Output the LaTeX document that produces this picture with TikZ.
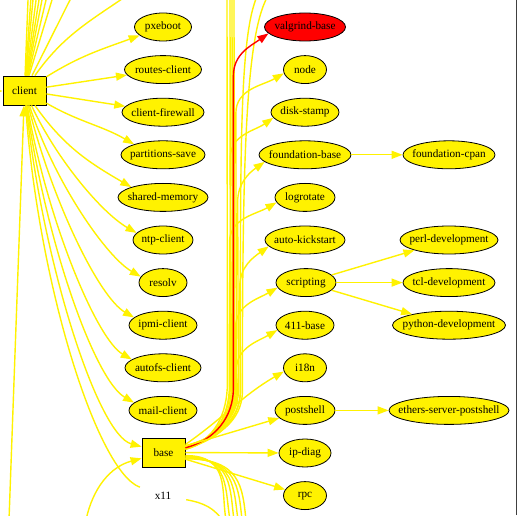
\documentclass[tikz,border=0pt]{standalone}
\usepackage{fontspec}
\setmainfont{Liberation Serif}
\usetikzlibrary{arrows.meta,shapes.geometric,calc}

\tikzset{
  pkg/.style={ellipse, draw=black, fill=yellow, line width=0.8pt,
    inner xsep=-12pt, inner ysep=0pt, minimum height=28pt,
    font=\fontsize{11.2}{13}\selectfont},
  pkgred/.style={pkg, fill=red},
  grp/.style={rectangle, draw=black, fill=yellow, line width=0.8pt, inner sep=0pt,
    minimum width=43pt, minimum height=29pt, font=\fontsize{11.2}{13}\selectfont},
  lbl/.style={inner sep=0pt, minimum width=46pt, minimum height=28pt,
    font=\fontsize{11.2}{13}\selectfont},
  dep/.style={draw=yellow, line width=1.4pt, -{Triangle[length=11pt,width=8pt]}},
  depred/.style={dep, draw=red},
  depline/.style={draw=yellow, line width=1.4pt},
}

\begin{document}
\begin{tikzpicture}[x=1pt, y=1pt]
    \useasboundingbox (0,0) rectangle (517,515);
    \clip (0,0) rectangle (517,515);
    \fill[white] (0,0) rectangle (517,515);

    % 分组方框
    \node[grp] (client) at (24.5,424.5) {client};
    \node[grp] (base) at (163.5,62.5) {base};
    \node[lbl] (xeleven) at (163,19.4) {x11};

    % client 的包
    \node[pkg, minimum width=57pt] (pxeboot)      at (163,488)   {pxeboot};
    \node[pkg, minimum width=77pt] (routesclient) at (163,445.4) {routes-client};
    \node[pkg, minimum width=82pt] (clientfw)     at (163,402.8) {client-firewall};
    \node[pkg, minimum width=84pt] (partsave)     at (163,360.2) {partitions-save};
    \node[pkg, minimum width=90pt] (sharedmem)    at (163,317.6) {shared-memory};
    \node[pkg, minimum width=60pt] (ntpclient)    at (163,275)   {ntp-client};
    \node[pkg, minimum width=48pt] (resolv)       at (163,232.4) {resolv};
    \node[pkg, minimum width=68pt] (ipmiclient)   at (163,189.8) {ipmi-client};
    \node[pkg, minimum width=76pt] (autofsclient) at (163,147.2) {autofs-client};
    \node[pkg, minimum width=68pt] (mailclient)   at (163,104.6) {mail-client};

    % base 的包
    \node[pkgred, minimum width=81pt] (valgrind) at (305,488)   {valgrind-base};
    \node[pkg, minimum width=43pt] (nodepkg)     at (305,445.4) {node};
    \node[pkg, minimum width=68pt] (diskstamp)   at (305,402.8) {disk-stamp};
    \node[pkg, minimum width=92pt] (fbase)       at (305,360.2) {foundation-base};
    \node[pkg, minimum width=60pt] (logrotate)   at (305,317.6) {logrotate};
    \node[pkg, minimum width=80pt] (autoks)      at (305,275)   {auto-kickstart};
    \node[pkg, minimum width=60pt] (scripting)   at (306,232.4) {scripting};
    \node[pkg, minimum width=58pt] (base411)     at (305,189.8) {411-base};
    \node[pkg, minimum width=43pt] (ieighteen)   at (305,147.2) {i18n};
    \node[pkg, minimum width=60pt] (postshell)   at (305,104.6) {postshell};
    \node[pkg, minimum width=52pt] (ipdiag)      at (305,62)    {ip-diag};
    \node[pkg, minimum width=43pt] (rpc)         at (305,19.4)  {rpc};

    % 第三列
    \node[pkg, minimum width=92pt]  (fcpan)      at (449,360.2) {foundation-cpan};
    \node[pkg, minimum width=98pt]  (perldev)    at (449,275)   {perl-development};
    \node[pkg, minimum width=92pt]  (tcldev)     at (449,232.4) {tcl-development};
    \node[pkg, minimum width=113pt] (pydev)      at (449,189.8) {python-development};
    \node[pkg, minimum width=120pt] (etherspost) at (449,104.6) {ethers-server-postshell};

    % 画面外的端点
    \coordinate (upa) at (28.4,525);
    \coordinate (upb) at (31.5,525);
    \coordinate (upc) at (33.9,525);
    \coordinate (upd) at (37.3,525);
    \coordinate (upe) at (40.6,525);
    \coordinate (upf) at (43.9,525);
    \coordinate (upg) at (48.4,525);
    \coordinate (uph) at (55,525);
    \coordinate (upi) at (75,525);
    \coordinate (upk) at (135,525);
    \coordinate (lfc) at (-40,423);
    \coordinate (dnc) at (9,-5);
    \coordinate (dnl) at (86,-5);
    \coordinate (dnx) at (224,-8);

    % client 的连线
    \draw[depline] (client) -- (upa);
    \draw[depline] (client) -- (upb);
    \draw[depline] (client) -- (upc);
    \draw[depline] (client) -- (upd);
    \draw[depline] (client) -- (upe);
    \draw[depline] (client) -- (upf);
    \draw[depline] (client) -- (upg);
    \draw[depline] (client) -- (uph);
    \draw[depline] (client) -- (upi);
    \draw[depline] (client) to[out=55,in=215] (upk);
    \draw[dep] (lfc) -- (client);
    \draw[dep] (dnc) -- (client);
    \draw[dep] (client) to[out=32,in=200] (pxeboot);
    \draw[dep] (client) -- (routesclient);
    \draw[dep] (client) -- (clientfw);
    \draw[dep] (client) to[out=-30,in=150] (partsave.160);
    \draw[dep] (client) to[out=-55,in=150] (sharedmem.162);
    \draw[dep] (client) to[out=-65,in=150,out distance=60pt,in distance=40pt] (ntpclient.165);
    \draw[dep] (client) to[out=-72,in=150,out distance=80pt,in distance=40pt] (resolv.165);
    \draw[dep] (client) to[out=-76,in=150,out distance=100pt,in distance=40pt] (ipmiclient.165);
    \draw[dep] (client) to[out=-80,in=150,out distance=120pt,in distance=40pt] (autofsclient.165);
    \draw[dep] (client) to[out=-82,in=150,out distance=140pt,in distance=45pt] (mailclient.165);
    \draw[dep] (client) to[out=-84,in=165,out distance=160pt,in distance=45pt] (base);
    \draw[depline] (client) to[out=-86,in=160,out distance=180pt,in distance=45pt] (xeleven);

    % base 向上的一束
    \draw[depline] (base.10) to[out=15,in=-90] ++(42,66) -- (227,525);
    \draw[depline] (base.11) to[out=15,in=-90] ++(45,64) -- (230,525);
    \draw[depline] (base.9) to[out=15,in=-90] ++(47,62) -- (232,525);
    \draw[depline] (base.13) to[out=15,in=-90] ++(49,60) -- (234,525);
    \draw[depline] (base.10) to[out=15,in=-90] ++(55,58)
        to[out=90,in=-125,out distance=260pt,in distance=40pt] (262,528);
    \draw[depline] (base.14) to[out=15,in=-90] ++(57,56)
        to[out=90,in=-130,out distance=250pt,in distance=40pt] (272,525);
    \draw[dep] (base.14) to[out=15,in=-90] ++(51,58)
        -- ($(nodepkg.190)+(-48,-40)$) to[out=90,in=210] (nodepkg.190);
    \draw[dep] (base.9) to[out=15,in=-90] ++(46,62)
        -- ($(diskstamp.190)+(-43,-40)$) to[out=90,in=215] (diskstamp.190);
    \draw[dep] (base.16) to[out=15,in=-90] ++(53,56)
        -- ($(fbase.190)+(-27,-40)$) to[out=90,in=215] (fbase.190);
    \draw[dep] (base.8) to[out=15,in=-90] ++(44,64)
        -- ($(logrotate.190)+(-47,-40)$) to[out=90,in=210] (logrotate.190);
    \draw[dep] (base.17) to[out=15,in=-90] ++(55,55)
        -- ($(autoks.190)+(-29,-40)$) to[out=90,in=215] (autoks.190);
    \draw[dep] (base.12) to[out=15,in=-90] ++(50,60)
        -- ($(scripting.190)+(-42,-40)$) to[out=90,in=210] (scripting.190);
    \draw[dep] (base.15) to[out=15,in=-90] ++(52,57)
        -- ($(base411.190)+(-41,-40)$) to[out=90,in=210] (base411.190);
    \draw[dep] (base.20) to[out=35,in=210] (ieighteen.190);
    \draw[depred] (base.12) to[out=15,in=-90] ++(48,60)
        -- ($(valgrind.190)+(-35,-42)$) to[out=90,in=215] (valgrind.190);

    % base 直连
    \draw[dep] (base) -- (postshell);
    \draw[dep] (base) -- (ipdiag);
    \draw[dep] (base) -- (rpc);

    % base 向下的一束
    \draw[depline] (base.-8) to[out=0,in=100,out distance=45pt] (226,-5);
    \draw[depline] (base.-10) to[out=0,in=100,out distance=45pt] (230,-5);
    \draw[depline] (base.-12) to[out=0,in=98,out distance=48pt] (234,-5);
    \draw[depline] (base.-14) to[out=0,in=98,out distance=50pt] (238,-5);
    \draw[depline] (base.-15) to[out=0,in=96,out distance=52pt] (242,-5);
    \draw[depline] (base.-16) to[out=0,in=96,out distance=55pt] (246,-5);
    \draw[dep] (dnl) to[out=78,in=195] (base);
    \draw[depline] (xeleven) to[out=-10,in=120] (dnx);

    % 右侧的包之间
    \draw[dep] (fbase) -- (fcpan);
    \draw[dep] (scripting) -- (perldev);
    \draw[dep] (scripting) -- (tcldev);
    \draw[dep] (scripting) -- (pydev);
    \draw[dep] (postshell) -- (etherspost);

    % 右边框
    \draw[black!75, line width=0.8pt] (516,0) -- (516,515);
\end{tikzpicture}
\end{document}
